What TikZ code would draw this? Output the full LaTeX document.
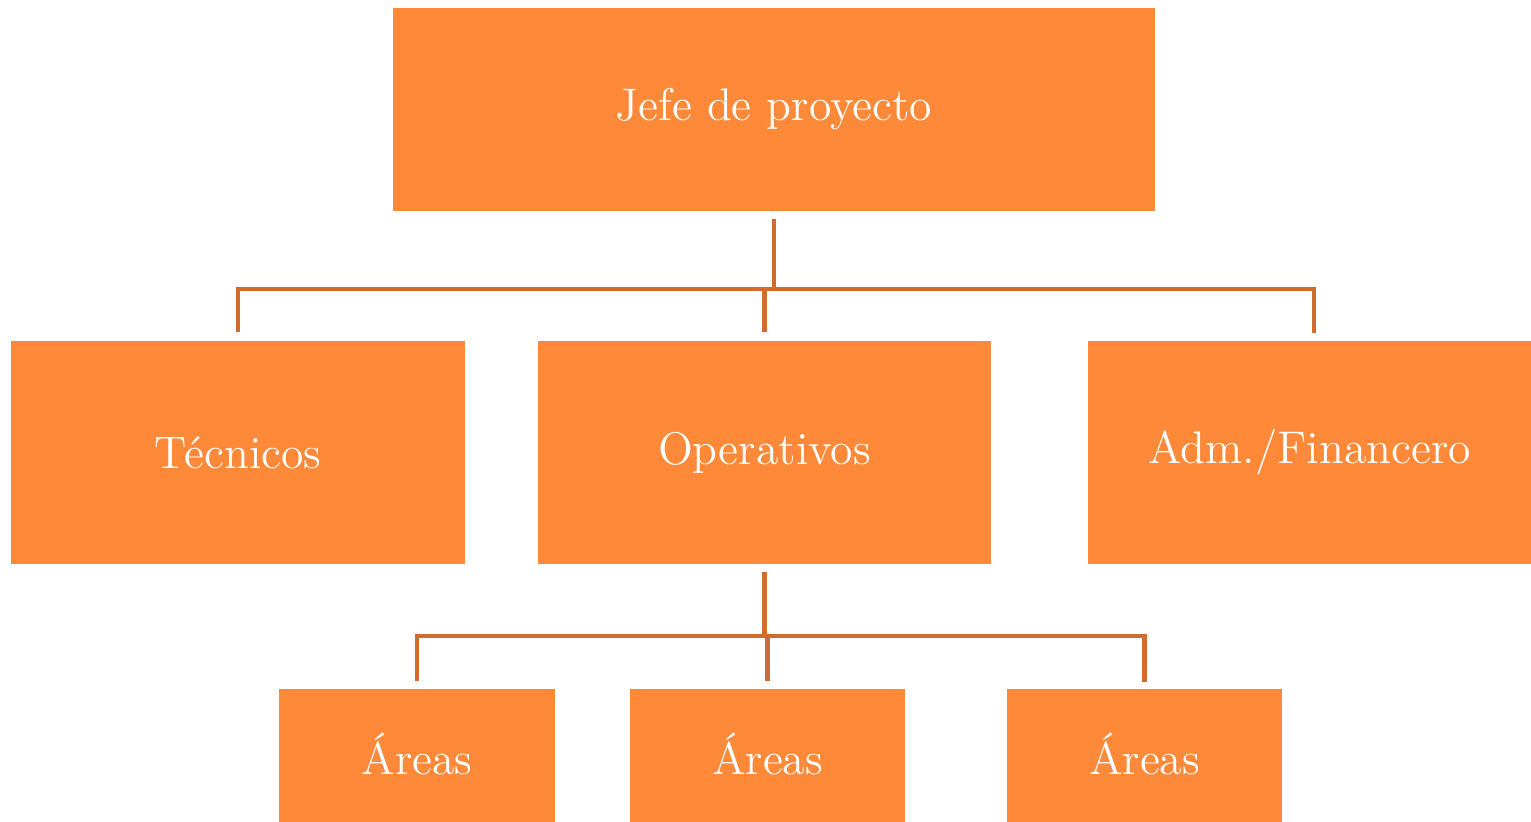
\documentclass[tikz,border=0pt]{standalone}
\usepackage{xcolor}
\usepackage{tikz}
\usetikzlibrary{positioning}
\definecolor{boxorange}{RGB}{254, 137, 57}
\definecolor{lineorange}{RGB}{208, 108, 48}

\begin{document}
\begin{tikzpicture}[x=0.01cm, y=-0.01cm,
    orgbox/.style={fill=boxorange, draw=none, inner sep=0pt, text=white,
        font=\fontsize{13}{15}\selectfont},
    conn/.style={draw=lineorange, line width=1.2pt}]
    \useasboundingbox (0,0) rectangle (1531,822);
    % Top level
    \node[orgbox, minimum width=7.62cm, minimum height=2.03cm] (jefe) at (774,109.5) {Jefe de proyecto};
    % Second level
    \node[orgbox, minimum width=4.54cm, minimum height=2.23cm] (tec) at (238,452.5) {Técnicos};
    \node[orgbox, minimum width=4.53cm, minimum height=2.23cm] (ope) at (764.5,452.5) {Operativos};
    \node[orgbox, minimum width=4.43cm, minimum height=2.23cm] (adm) at (1309.5,452.5) {Adm./Financero};
    % Third level
    \foreach \name/\cx in {area1/417, area2/767.5, area3/1144.5} {
        \node[orgbox, minimum width=2.75cm, minimum height=1.33cm] (\name) at (\cx,755.5) {\raisebox{1.2pt}{Áreas}};
    }
    % Connectors
    \coordinate (bus1) at (0,289);
    \coordinate (bus2) at (0,636);
    \coordinate (admtop) at ([xshift=0.045cm]adm.north);
    \draw[conn] (jefe.south) ++(0,7) -- (jefe.south |- bus1);
    \draw[conn] (tec.north) ++(0,-8) |- (bus1 -| admtop) -- ++(0,44);
    \draw[conn] (ope.north) ++(0,-8) -- (ope.north |- bus1);
    \draw[conn] (ope.south) ++(0,7) -- (ope.south |- bus2);
    \draw[conn] (area1.north) ++(0,-7) |- (bus2 -| area3.north) -- ++(0,46);
    \draw[conn] (area2.north) ++(0,-7) -- (area2.north |- bus2);
\end{tikzpicture}
\end{document}
